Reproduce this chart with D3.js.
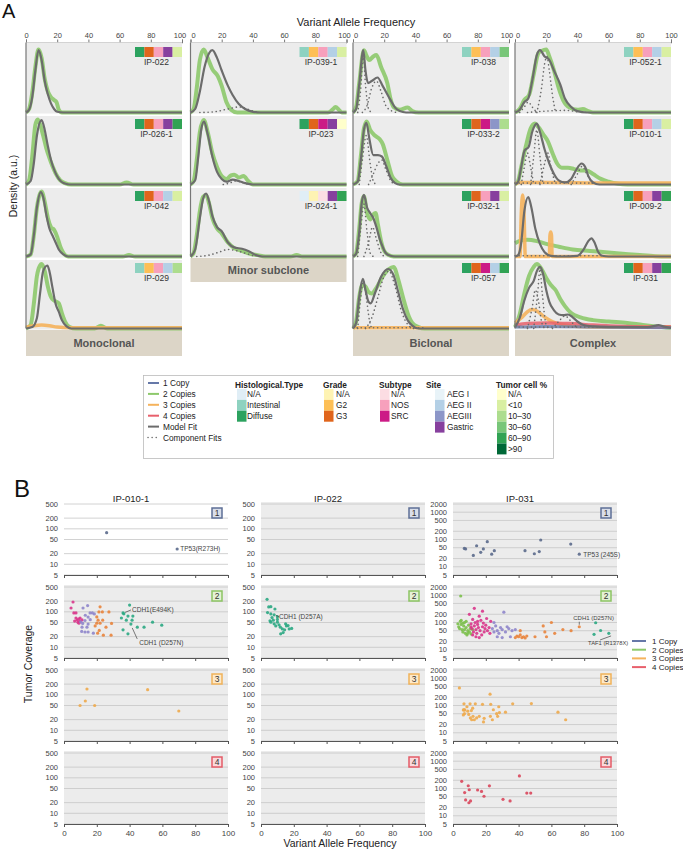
<!DOCTYPE html>
<html><head><meta charset="utf-8">
<script src="https://cdn.jsdelivr.net/npm/d3@7"></script>
<style>body{margin:0;background:#fff;} svg{display:block;font-family:"Liberation Sans",Arial,sans-serif;}</style>
</head><body><svg id="c" width="683" height="850"></svg>
<script>
// ---------------- DATA: panel A legend categories ----------------
const histTypes = ['N/A','Intestinal','Diffuse'];
const grades = ['N/A','G2','G3'];
const subtypes = ['N/A','NOS','SRC'];
const sites = ['AEG I','AEG II','AEGIII','Gastric'];
const tumorPct = ['N/A','<10','10–30','30–60','60–90','>90'];
const copyLabels = ['1 Copy','2 Copies','3 Copies','4 Copies','Model Fit','Component Fits'];
const vafTicks = [0,20,40,60,80,100];
const groupLabels = ['Monoclonal','Minor subclone','Biclonal','Complex'];

// strip values: [hist, grade, subtype, site, tumor%]
const strip_IP022 = ['Diffuse','G3','NOS','Gastric','<10'];
const strip_IP0261 = ['Diffuse','G3','NOS','Gastric','60–90'];
const strip_IP042 = ['Diffuse','G3','NOS','AEG II','<10'];
const strip_IP029 = ['Intestinal','G2','NOS','AEG II','10–30'];
const strip_IP0391 = ['Intestinal','G2','NOS','AEG II','<10'];
const strip_IP023 = ['Diffuse','G3','SRC','Gastric','N/A'];
const strip_IP0241 = ['N/A','N/A','N/A','Gastric','60–90'];
const strip_IP038 = ['Intestinal','G2','NOS','AEG II','30–60'];
const strip_IP0332 = ['Diffuse','G3','SRC','AEGIII','10–30'];
const strip_IP0321 = ['Diffuse','G3','NOS','Gastric','<10'];
const strip_IP057 = ['Diffuse','G3','SRC','AEG II','60–90'];
const strip_IP0521 = ['Intestinal','G2','NOS','AEG II','<10'];
const strip_IP0101 = ['Diffuse','G3','NOS','AEG II','<10'];
const strip_IP0092 = ['Diffuse','G3','NOS','Gastric','60–90'];
const strip_IP031 = ['Diffuse','G3','NOS','Gastric','60–90'];

// density curves [VAF, density a.u.]
const fit_IP022 = [[0,0],[2,0.04],[4,0.22],[6,0.6],[8,0.89],[10,0.75],[12,0.45],[14,0.26],[16,0.13],[18,0.05],[20,0.01],[24,0],[100,0]];
const cn2_IP022 = [[0,0],[2,0.05],[4,0.28],[6,0.65],[8,0.9],[10,0.78],[12,0.48],[14,0.3],[16,0.22],[18,0.18],[19.5,0.15],[21,0.04],[23,0],[100,0]];

const fit_IP0261 = [[0,0],[3,0.05],[5,0.3],[7,0.7],[10,0.92],[12,0.78],[14,0.55],[16,0.35],[18.6,0.18],[21,0.08],[24,0.02],[28,0],[100,0]];
const cn2_IP0261 = [[0,0],[2,0.06],[4,0.4],[6,0.85],[7.5,0.93],[9,0.86],[11,0.7],[13,0.52],[15,0.38],[17,0.26],[19,0.16],[22,0.06],[25,0.02],[29,0],[60,0],[64.5,0.03],[69,0],[100,0]];

const fit_IP042 = [[0,0],[3,0.03],[5,0.3],[7,0.7],[9.5,0.92],[11,0.85],[13,0.6],[15,0.4],[17,0.3],[19,0.2],[21,0.1],[24,0.03],[27,0],[100,0]];
const cn2_IP042 = [[0,0],[3,0.03],[5,0.3],[7,0.7],[9,0.9],[10,0.93],[12,0.78],[14,0.55],[16,0.42],[18,0.38],[20,0.28],[22,0.14],[24,0.05],[27,0],[62,0],[66,0.02],[70,0],[100,0]];

const fit_IP029 = [[0,0],[4,0.02],[7,0.15],[9,0.5],[11,0.82],[13.7,0.9],[15,0.82],[17,0.58],[19,0.35],[21,0.24],[23,0.12],[26,0.03],[29,0],[100,0]];
const cn2_IP029 = [[0,0],[3,0.05],[5,0.35],[7,0.75],[9,0.9],[10,0.92],[12,0.82],[14,0.6],[16,0.45],[18,0.4],[21,0.36],[23,0.22],[25,0.1],[28,0.02],[32,0],[44,0],[48,0.04],[52,0],[100,0]];
const cn3_IP029 = [[0,0.02],[5,0.04],[10,0.05],[15,0.04],[20,0.02],[28,0.01],[100,0.01]];

const fit_IP0391 = [[0,0],[3,0.05],[6,0.3],[9,0.65],[12,0.85],[14,0.89],[17,0.78],[20,0.6],[24,0.38],[27,0.25],[31,0.12],[35,0.05],[40,0.01],[45,0],[100,0]];
const cn2_IP0391 = [[0,0],[2,0.05],[4,0.35],[6,0.75],[8.5,0.9],[11,0.78],[14,0.62],[17.5,0.52],[20,0.38],[23,0.15],[26,0.04],[30,0],[88,0],[91,0.04],[93,0.08],[95,0.04],[97,0],[100,0]];
const comp_IP0391 = [[[6,0],[15,0.01],[24,0.05],[31,0.08],[35,0.06],[40,0.02],[44,0]]];

const fit_IP023 = [[0,0],[3,0.06],[5,0.4],[7,0.8],[8.7,0.9],[11,0.72],[14,0.4],[17,0.18],[20,0.08],[23,0.04],[27,0.07],[31,0.05],[35,0.02],[40,0],[100,0]];
const cn2_IP023 = [[0,0],[2,0.05],[4,0.35],[6,0.75],[8.5,0.92],[11,0.75],[14,0.45],[17,0.25],[20,0.12],[23,0.08],[26,0.13],[28,0.14],[31,0.1],[34,0.12],[37,0.05],[40,0],[100,0]];
const comp_IP023 = [[[21,0],[25,0.02],[29,0.05],[33,0.03],[37,0]]];

const fit_IP0241 = [[0,0],[3,0.1],[6,0.55],[8,0.82],[10,0.9],[12,0.78],[14,0.58],[17,0.42],[20,0.36],[24,0.2],[28,0.13],[33,0.11],[37,0.08],[42,0.02],[46,0],[100,0]];
const cn2_IP0241 = [[0,0],[2,0.05],[4,0.3],[6,0.65],[8,0.85],[10,0.88],[12,0.75],[14,0.55],[17,0.4],[20,0.33],[24,0.2],[28,0.12],[33,0.08],[38,0.04],[43,0.02],[48,0],[64,0],[68,0.02],[72,0],[100,0]];
const comp_IP0241 = [[[4,0],[12,0.02],[18,0.06],[24,0.1],[30,0.08],[36,0.04],[42,0]]];

const fit_IP038 = [[0,0],[2,0.05],[4,0.4],[6.6,0.89],[8,0.6],[9.6,0.42],[12,0.45],[15.7,0.5],[19,0.38],[24,0.18],[27,0.07],[30,0.02],[34,0],[100,0]];
const cn2_IP038 = [[0,0],[2,0.08],[4,0.42],[7,0.89],[8.5,0.82],[10.4,0.75],[13,0.8],[15,0.82],[18,0.65],[22,0.42],[24,0.2],[26,0.08],[30,0.04],[35,0.07],[38,0.02],[42,0],[100,0]];
const comp_IP038 = [[[3,0],[5,0.35],[6.5,0.82],[8,0.4],[10,0.05],[12,0]],[[6,0],[9,0.1],[12,0.35],[15,0.45],[18,0.3],[21,0.1],[25,0.02],[28,0]]];

const fit_IP0332 = [[0,0],[3,0.04],[5,0.35],[7,0.78],[8.6,0.88],[10.5,0.65],[13,0.42],[16,0.42],[18.5,0.4],[21,0.28],[24,0.1],[27,0.02],[30,0],[100,0]];
const cn2_IP0332 = [[0,0],[3,0.05],[5,0.4],[7,0.8],[8.8,0.9],[11,0.78],[14,0.7],[17,0.65],[19,0.58],[22,0.35],[25,0.12],[28,0.04],[32,0],[100,0]];
const comp_IP0332 = [[[4,0],[6,0.35],[8.5,0.7],[11,0.3],[13,0.05],[15,0]],[[10,0],[13,0.15],[16,0.3],[18.5,0.35],[21,0.22],[24,0.06],[27,0]]];

const fit_IP0321 = [[0,0],[2,0.04],[4,0.35],[5.5,0.75],[7,0.88],[9,0.7],[11,0.62],[13,0.55],[15,0.42],[17,0.26],[19,0.14],[21,0.05],[24,0.01],[27,0],[100,0]];
const cn2_IP0321 = [[0,0],[2,0.05],[4,0.4],[5.5,0.75],[7,0.86],[9,0.62],[11,0.53],[13,0.6],[14.5,0.62],[16,0.45],[18,0.22],[20,0.08],[23,0.02],[26,0],[100,0]];
const comp_IP0321 = [[[3,0],[5,0.4],[7,0.75],[9,0.35],[11,0.05],[13,0]],[[7,0],[10,0.2],[12.5,0.42],[15,0.25],[18,0.05],[20,0]]];

const fit_IP057 = [[0,0],[2,0.08],[4,0.45],[6.3,0.71],[8,0.55],[10,0.38],[11.3,0.36],[14,0.5],[18,0.74],[22.6,0.85],[26,0.76],[29,0.52],[32,0.28],[35,0.12],[38,0.04],[42,0],[100,0]];
const cn2_IP057 = [[0,0],[2,0.1],[4,0.45],[6,0.62],[8,0.6],[10,0.52],[12,0.5],[15,0.58],[19,0.74],[23,0.85],[26,0.88],[29,0.7],[32,0.45],[35,0.22],[38,0.08],[42,0.02],[46,0],[100,0]];
const cn3_IP057 = [[0,0.01],[100,0.01]];
const comp_IP057 = [[[3,0],[5,0.45],[6.5,0.68],[8.5,0.45],[10.5,0.12],[12,0]],[[8,0],[12,0.15],[16,0.45],[20,0.75],[23,0.82],[27,0.6],[31,0.25],[35,0.06],[39,0]],[[0,0.01],[45,0.01]]];

const fit_IP0521 = [[0,0],[3,0.04],[6,0.15],[8.5,0.2],[11,0.45],[14,0.82],[16,0.89],[19,0.8],[22,0.75],[25,0.6],[29,0.4],[32,0.2],[36,0.08],[40,0.02],[46,0],[100,0]];
const cn2_IP0521 = [[0,0],[3,0.05],[6,0.18],[9,0.25],[12,0.55],[15,0.85],[17,0.88],[20,0.9],[22,0.8],[25,0.6],[28,0.35],[31,0.17],[35,0.07],[40,0.04],[43.5,0.05],[47,0.02],[50,0],[100,0]];
const comp_IP0521 = [[[14,0],[17,0.35],[19,0.7],[20.5,0.8],[22,0.6],[24,0.25],[26,0]],[[3,0],[6,0.08],[8.5,0.15],[11,0.08],[14,0]],[[8,0],[20,0.02],[32,0.03],[42,0]]];

const fit_IP0101 = [[0,0],[2,0.04],[4,0.25],[6,0.48],[8.8,0.54],[11,0.75],[14,0.87],[16,0.75],[19,0.5],[22,0.3],[25,0.15],[28,0.06],[32,0.03],[36,0.08],[39,0.2],[42.7,0.3],[45,0.25],[47,0.12],[50,0.03],[54,0],[100,0]];
const cn2_IP0101 = [[0,0],[2,0.05],[4,0.25],[7,0.55],[10,0.8],[12.8,0.87],[15,0.82],[18,0.72],[21,0.62],[24,0.45],[27,0.3],[30,0.24],[34,0.24],[38,0.22],[42,0.2],[46,0.2],[50,0.15],[55,0.08],[60,0.04],[66,0.01],[72,0],[100,0]];
const cn3_IP0101 = [[0,0.01],[3,0.03],[20,0.03],[60,0.02],[100,0.02]];
const comp_IP0101 = [[[4,0],[6,0.25],[8,0.45],[10,0.25],[12,0]],[[10,0],[12,0.4],[14,0.78],[16,0.4],[18,0]],[[16,0],[19,0.3],[21,0.45],[23,0.25],[26,0]],[[36,0],[40,0.15],[43,0.26],[46,0.15],[50,0]],[[0,0.02],[50,0.02]]];

const fit_IP0092 = [[0,0],[2,0.02],[4,0.2],[6,0.65],[8.5,0.85],[10.5,0.7],[13,0.4],[16,0.18],[19,0.06],[23,0.01],[30,0],[40,0.01],[44,0.1],[47,0.22],[49,0.26],[51,0.2],[53,0.08],[56,0.01],[60,0],[100,0]];
const cn2_IP0092 = [[0,0.19],[4,0.23],[8,0.24],[14,0.22],[20,0.18],[28,0.14],[37,0.1],[48,0.08],[58,0.06],[69,0.04],[80,0.02],[90,0.005],[100,0]];
const cn3_IP0092 = [[0,0],[3.2,0],[4,0.6],[4.9,0.88],[5.8,0.6],[6.6,0],[22,0],[22.4,0.3],[22.9,0.35],[23.4,0.3],[23.8,0],[100,0]];
const comp_IP0092 = [[[0,0.01],[56,0.01]]];

const fit_IP031 = [[0,0.02],[3,0.15],[6,0.4],[9,0.58],[12,0.68],[14,0.82],[16,0.88],[18,0.78],[20,0.55],[22,0.38],[25,0.26],[28,0.2],[31,0.19],[34,0.2],[37,0.16],[40,0.1],[44,0.05],[50,0.03],[60,0.02],[85,0.02],[90,0.04],[92,0.05],[95,0.03],[100,0.01]];
const cn2_IP031 = [[0,0.02],[3,0.2],[6,0.5],[9,0.75],[12,0.88],[14,0.92],[17,0.85],[20,0.72],[23,0.62],[26,0.55],[29,0.42],[32,0.32],[36,0.22],[42,0.16],[50,0.12],[60,0.1],[72,0.08],[82,0.05],[90,0.03],[100,0.01]];
const cn3_IP031 = [[0,0.08],[4,0.15],[8,0.24],[11,0.27],[14,0.25],[18,0.18],[22,0.12],[26,0.08],[32,0.05],[40,0.03],[60,0.02],[100,0.02]];
const cn4_IP031 = [[0,0.05],[8,0.07],[20,0.08],[35,0.07],[50,0.05],[70,0.03],[100,0.02]];
const cn1_IP031 = [[0,0.02],[20,0.03],[50,0.02],[100,0.01]];
const comp_IP031 = [[[8,0],[11,0.3],[13,0.55],[15,0.4],[17,0.1],[19,0]],[[12,0],[14.5,0.5],[16,0.85],[17.5,0.5],[20,0.05],[22,0]],[[24,0],[28,0.1],[32,0.18],[36,0.1],[40,0]],[[0,0.02],[60,0.02]]];

// ---------------- DATA: panel B (VAF %, tumor coverage) ----------------
const covTicks = [5,10,20,50,100,200,500];
const covTicksWide = [5,10,20,50,100,200,500,1000,2000];
const bLegend = ['1 Copy','2 Copies','3 Copies','4 Copies'];

const b_IP0101_cn1 = [[26,78],[69,27]];
const b_IP0101_cn2_magenta = [[5.5,189],[4.3,128],[6,93],[7.3,93],[8,59],[8.5,51],[9.1,48],[9.8,54],[9.8,67],[11,59],[7.3,67],[6.5,55],[9,62]];
const b_IP0101_cn2_lavender = [[14.4,150],[11.6,128],[15.9,93],[17.3,93],[18.5,87],[14.7,71],[10.2,52],[11.4,47],[12.8,57],[14.7,45],[10.8,28],[12.8,27],[14.7,27],[17.9,25],[14,37],[11,37],[16,60],[13,80]];
const b_IP0101_cn2_orange = [[22,138],[21.3,99],[23.4,99],[20,72],[20.8,58],[20,48],[22,48],[23.6,58],[25.6,37],[29,47],[27.4,99],[20.5,25],[24,22],[28.7,22],[21.5,30],[19,40]];
const b_IP0101_cn2_teal = [[36,93],[36.5,88],[35,67],[40,155],[39,76],[42,76],[38,58],[41.5,58],[36,31],[39,24],[40.8,45],[44.7,37],[48.8,37],[54,51],[59.6,42]];
const b_IP0101_cn3 = [[9.8,50],[13,67],[14,146],[18.7,50],[51,140],[70,35]];

const b_IP022_cn2_teal = [[3.7,225],[4.7,137],[6,140],[8.5,120],[4,95],[6,87],[8,82],[10,73],[6.7,69],[5.5,56],[7.5,58],[10,61],[6,51],[8,46],[10,51],[11,43],[9,40],[11.8,37],[13,33],[14.4,31],[15.5,40],[17.2,33],[18.7,34],[16.5,41],[12,24],[13.5,26],[15,46]];

const b_IP031_cn1 = [[6.9,47],[7.7,45],[12.4,26],[14.4,59],[16.9,34],[18.5,45],[20.9,83],[23.6,29],[25.2,39],[43.9,39],[49.6,30],[52.6,36],[53.5,96],[71.8,68],[77,29]];
const b_IP031_cn2_green = [[4.7,935],[3,90],[3.5,70],[4,60],[4.5,110],[5,85],[5.5,55],[6,45],[6.5,75],[7,100],[7.5,40],[8,65],[8.5,35],[9,50],[9.5,80],[10,45],[10.5,60],[11,38],[5,120],[6,95],[7,55],[8,110],[9,40],[12,55]];
const b_IP031_cn2_magenta = [[10,200],[11,90],[11.5,60],[12,130],[12.5,45],[13,75],[13.5,100],[14,55],[14.5,40],[15,85],[15.5,65],[16,170],[16.5,50],[17,120],[17.5,35],[18,70],[18.5,95],[19,45],[19.5,60],[20,80],[20.5,140],[21,50],[22,65],[22.5,40],[23,110],[13,330],[18,260],[12,35],[14,30],[16,28],[11,70],[15,110]];
const b_IP031_cn2_lavender = [[24,60],[25,45],[26,75],[27,50],[28,40],[29,65],[30,55],[31,240],[32,45],[33,70],[34,60],[35,30],[36,50],[27,30],[30,28],[38,55],[25,100]];
const b_IP031_cn2_orange = [[38,28],[39,32],[40,30],[41,35],[42,28],[43,30],[44,27],[45,32],[41,50],[55,75],[56,45],[57,30],[60,100],[62,40],[67,55],[72,50],[77,70],[50,30]];
const b_IP031_cn2_teal = [[87,98],[90,51],[86,37],[95,40]];
const b_IP031_cn3 = [[3.9,440],[6.7,115],[6.3,69],[6.8,69],[7.2,69],[7,50],[6.3,45],[10.4,115],[9,62],[9.6,47],[11.2,65],[10.6,35],[11.4,30],[12.2,40],[13,30],[13.6,115],[14.4,35],[16,40],[18,110],[18.6,25],[19,34],[22.6,260],[22.8,40],[23,110],[24,30],[24.6,70],[26.6,50],[27.9,90],[28.3,55],[27.2,40],[32,57],[36.4,115],[47.8,118],[64,57],[68.7,30],[8.5,90],[12,80]];
const b_IP031_cn4 = [[5.3,183],[7.1,71],[7.7,38],[9.3,126],[9.9,90],[9.7,30],[10.7,35],[15,88],[17.4,78],[18.9,52],[22.2,125],[30.5,40],[34.8,35],[40.5,290],[45,68],[47.4,68]];

// ---------------- STYLE ----------------
const catColor = {
  hist: {'N/A':'#e0eef6','Intestinal':'#8ed2c0','Diffuse':'#2ca25f'},
  grade: {'N/A':'#fef3b3','G2':'#fdbf56','G3':'#e0651c'},
  subtype: {'N/A':'#fcdde3','NOS':'#f7a0bc','SRC':'#cc1b86'},
  site: {'AEG I':'#e8f3f8','AEG II':'#b4d0e6','AEGIII':'#8c96c8','Gastric':'#87409e'},
  tumor: {'N/A':'#ffffcc','<10':'#d9efa2','10–30':'#addd8e','30–60':'#78c679','60–90':'#31a354','>90':'#006837'}
};
const stripKeys = ['hist','grade','subtype','site','tumor'];
const cnColor = {cn1:'#6678a8', cn2:'#8dc96b', cn3:'#f5b35c', cn4:'#e8606c', fit:'#6c6c6c'};
const ptColor = {slate:'#5b6a8c', magenta:'#d9358b', lavender:'#8f86cb', orange:'#e9843c', teal:'#2ba883', green:'#7cc04c', cn3:'#eeaa4c', cn4:'#d9475c'};

const svg = d3.select('#c');
const FONT = '"Liberation Sans",Arial,sans-serif';

// ---------------- PANEL A ----------------
const colX = [26, 190.5, 353, 515], colW = 156;
const rowTop = r => 42.5 + 72*r, rowBase = r => 112.5 + 72*r;

const panelsA = [
  {id:'IP-022',c:0,r:0,strip:strip_IP022,fit:fit_IP022,cn2:cn2_IP022},
  {id:'IP-026-1',c:0,r:1,strip:strip_IP0261,fit:fit_IP0261,cn2:cn2_IP0261},
  {id:'IP-042',c:0,r:2,strip:strip_IP042,fit:fit_IP042,cn2:cn2_IP042},
  {id:'IP-029',c:0,r:3,strip:strip_IP029,fit:fit_IP029,cn2:cn2_IP029,cn3:cn3_IP029},
  {id:'IP-039-1',c:1,r:0,strip:strip_IP0391,fit:fit_IP0391,cn2:cn2_IP0391,comp:comp_IP0391},
  {id:'IP-023',c:1,r:1,strip:strip_IP023,fit:fit_IP023,cn2:cn2_IP023,comp:comp_IP023},
  {id:'IP-024-1',c:1,r:2,strip:strip_IP0241,fit:fit_IP0241,cn2:cn2_IP0241,comp:comp_IP0241},
  {id:'IP-038',c:2,r:0,strip:strip_IP038,fit:fit_IP038,cn2:cn2_IP038,comp:comp_IP038},
  {id:'IP-033-2',c:2,r:1,strip:strip_IP0332,fit:fit_IP0332,cn2:cn2_IP0332,comp:comp_IP0332},
  {id:'IP-032-1',c:2,r:2,strip:strip_IP0321,fit:fit_IP0321,cn2:cn2_IP0321,comp:comp_IP0321},
  {id:'IP-057',c:2,r:3,strip:strip_IP057,fit:fit_IP057,cn2:cn2_IP057,cn3:cn3_IP057,comp:comp_IP057},
  {id:'IP-052-1',c:3,r:0,strip:strip_IP0521,fit:fit_IP0521,cn2:cn2_IP0521,comp:comp_IP0521},
  {id:'IP-010-1',c:3,r:1,strip:strip_IP0101,fit:fit_IP0101,cn2:cn2_IP0101,cn3:cn3_IP0101,comp:comp_IP0101},
  {id:'IP-009-2',c:3,r:2,strip:strip_IP0092,fit:fit_IP0092,cn2:cn2_IP0092,cn3:cn3_IP0092,comp:comp_IP0092},
  {id:'IP-031',c:3,r:3,strip:strip_IP031,fit:fit_IP031,cn2:cn2_IP031,cn3:cn3_IP031,cn4:cn4_IP031,cn1:cn1_IP031,comp:comp_IP031}
];
const colRows = [4,3,4,4];

svg.append('text').attr('x',2).attr('y',18).attr('font-size',20).attr('fill','#111').text('A');
svg.append('text').attr('x',356).attr('y',26).attr('text-anchor','middle').attr('font-size',11).attr('fill','#222').text('Variant Allele Frequency');
svg.append('text').attr('transform','translate(17,186) rotate(-90)').attr('text-anchor','middle').attr('font-size',10.5).attr('fill','#222').text('Density (a.u.)');

const gA = svg.append('g');
colX.forEach((x0,c)=>{
  const xs = d3.scaleLinear().domain([0,100]).range([x0,x0+colW]);
  const ax = gA.append('g').attr('transform','translate(0,42.5)')
    .call(d3.axisTop(xs).tickValues(vafTicks).tickSize(3).tickPadding(2));
  ax.select('.domain').attr('stroke','#777');
  ax.selectAll('line').attr('stroke','#777');
  ax.selectAll('text').attr('font-size',7.5).attr('fill','#444').attr('font-family',FONT)
    .attr('dx',d=> (d===100 && c<3) ? -2.5 : (d===0 && c>0 ? 2.5 : 0));
  // group label box
  const nR = colRows[c];
  const by = rowBase(nR-1)+1.5;
  gA.append('rect').attr('x',x0).attr('y',by).attr('width',colW).attr('height',c===1?24:26).attr('fill','#dcd5c7');
  gA.append('text').attr('x',x0+colW/2).attr('y',by+(c===1?16:17)).attr('text-anchor','middle')
    .attr('font-size',11).attr('font-weight','bold').attr('fill','#555').text(groupLabels[c]);
});

panelsA.forEach(p=>{
  const x0 = colX[p.c];
  const xs = d3.scaleLinear().domain([0,100]).range([x0,x0+colW]);
  const ys = d3.scaleLinear().domain([0,1]).range([rowBase(p.r), rowTop(p.r)]);
  const g = gA.append('g');
  g.append('rect').attr('x',x0).attr('y',rowTop(p.r)+(p.r===0?0:1.5)).attr('width',colW)
    .attr('height',rowBase(p.r)-rowTop(p.r)-(p.r===0?0:1.5)+1).attr('fill','#ececec');
  const line = d3.line().x(d=>xs(d[0])).y(d=>ys(d[1])).curve(d3.curveMonotoneX);
  g.append('path').attr('d',line(p.cn2)).attr('fill','none').attr('stroke',cnColor.cn2).attr('stroke-width',4).attr('stroke-opacity',0.9).attr('stroke-linejoin','round');
  if(p.cn3) g.append('path').attr('d',line(p.cn3)).attr('fill','none').attr('stroke',cnColor.cn3).attr('stroke-width',3.5).attr('stroke-opacity',0.9);
  if(p.cn4) g.append('path').attr('d',line(p.cn4)).attr('fill','none').attr('stroke',cnColor.cn4).attr('stroke-width',3.5).attr('stroke-opacity',0.85);
  if(p.cn1) g.append('path').attr('d',line(p.cn1)).attr('fill','none').attr('stroke',cnColor.cn1).attr('stroke-width',3).attr('stroke-opacity',0.8);
  (p.comp||[]).forEach(cp=>{
    g.append('path').attr('d',line(cp)).attr('fill','none').attr('stroke','#6a6a6a').attr('stroke-width',1.6)
      .attr('stroke-dasharray','0.1,4').attr('stroke-linecap','round');
  });
  g.append('path').attr('d',line(p.fit)).attr('fill','none').attr('stroke',cnColor.fit).attr('stroke-width',2.2).attr('stroke-linejoin','round');
  // strip
  const sw = 9.4, sx = x0+colW-5*sw, sy = rowTop(p.r)+4.5;
  p.strip.forEach((v,i)=>{
    g.append('rect').attr('x',sx+i*sw).attr('y',sy).attr('width',sw).attr('height',10).attr('fill',catColor[stripKeys[i]][v]);
  });
  g.append('text').attr('x',sx+2.5*sw-2).attr('y',sy+18).attr('text-anchor','middle').attr('font-size',8.5).attr('fill','#333').text(p.id);
});
// left axis lines per column
colX.forEach((x0,c)=>{
  gA.append('line').attr('x1',x0).attr('x2',x0).attr('y1',42.5).attr('y2',rowBase(colRows[c]-1)).attr('stroke','#777').attr('stroke-width',1.2);
});

// ---------------- LEGEND A ----------------
const gL = svg.append('g');
gL.append('rect').attr('x',143.5).attr('y',375.5).attr('width',410).attr('height',83).attr('fill','#fff').attr('stroke','#bbb').attr('stroke-width',0.8);
const lY = i => 386 + 10.9*i;
const lineCols = [cnColor.cn1, cnColor.cn2, cnColor.cn3, cnColor.cn4, cnColor.fit, '#777'];
copyLabels.forEach((t,i)=>{
  const l = gL.append('line').attr('x1',148).attr('x2',159).attr('y1',lY(i)-3).attr('y2',lY(i)-3).attr('stroke',lineCols[i]).attr('stroke-width',2);
  if(i===5) l.attr('stroke-dasharray','0.1,4').attr('stroke-linecap','round').attr('stroke-width',1.6);
  gL.append('text').attr('x',163).attr('y',lY(i)).attr('font-size',8.3).attr('fill','#222').text(t);
});
const legGroups = [
  {title:'Histological.Type', key:'hist', items:histTypes, hx:235, sx:237, tx:247},
  {title:'Grade', key:'grade', items:grades, hx:323, sx:324, tx:336},
  {title:'Subtype', key:'subtype', items:subtypes, hx:379, sx:380, tx:391},
  {title:'Site', key:'site', items:sites, hx:426, sx:435, tx:447},
  {title:'Tumor cell %', key:'tumor', items:tumorPct, hx:496, sx:497, tx:508}
];
legGroups.forEach(G=>{
  gL.append('text').attr('x',G.hx).attr('y',387.5).attr('font-size',8.3).attr('font-weight','bold').attr('fill','#222').text(G.title);
  G.items.forEach((it,i)=>{
    const cy = 397 + 10.9*i;
    gL.append('rect').attr('x',G.sx).attr('y',cy-8).attr('width',9.5).attr('height',10.9).attr('fill',catColor[G.key][it]);
    gL.append('text').attr('x',G.tx).attr('y',cy).attr('font-size',8.3).attr('fill','#222').text(it);
  });
});

// ---------------- PANEL B ----------------
svg.append('text').attr('x',14).attr('y',497).attr('font-size',24).attr('fill','#111').text('B');
const colBX = [64, 261, 453], colBW = 164;
const bTop = r => 504 + 83*r, bBot = r => 575 + 83*r;
const bTitles = ['IP-010-1','IP-022','IP-031'];
const boxStyle = [
  {s:'#5d6f96', f:'#d9dee9'}, {s:'#8cc463', f:'#e4f1d5'}, {s:'#f0b25a', f:'#fde9c9'}, {s:'#e45b67', f:'#f9d9dc'}
];
const bSeries = [
  {c:0,r:0,d:b_IP0101_cn1,col:ptColor.slate},
  {c:0,r:1,d:b_IP0101_cn2_magenta,col:ptColor.magenta},
  {c:0,r:1,d:b_IP0101_cn2_lavender,col:ptColor.lavender},
  {c:0,r:1,d:b_IP0101_cn2_orange,col:ptColor.orange},
  {c:0,r:1,d:b_IP0101_cn2_teal,col:ptColor.teal},
  {c:0,r:2,d:b_IP0101_cn3,col:ptColor.cn3},
  {c:1,r:1,d:b_IP022_cn2_teal,col:ptColor.teal},
  {c:2,r:0,d:b_IP031_cn1,col:ptColor.slate},
  {c:2,r:1,d:b_IP031_cn2_green,col:ptColor.green},
  {c:2,r:1,d:b_IP031_cn2_lavender,col:ptColor.lavender},
  {c:2,r:1,d:b_IP031_cn2_orange,col:ptColor.orange},
  {c:2,r:1,d:b_IP031_cn2_magenta,col:ptColor.magenta},
  {c:2,r:1,d:b_IP031_cn2_teal,col:ptColor.teal},
  {c:2,r:2,d:b_IP031_cn3,col:ptColor.cn3},
  {c:2,r:3,d:b_IP031_cn4,col:ptColor.cn4}
];
const bScales = {};
const gB = svg.append('g');
colBX.forEach((x0,c)=>{
  const xs = d3.scaleLinear().domain([0,100]).range([x0,x0+colBW]);
  const ticks = c===2 ? covTicksWide : covTicks;
  const dom = [5, ticks[ticks.length-1]];
  gB.append('text').attr('x',x0+colBW/2-15).attr('y',502).attr('text-anchor','middle').attr('font-size',9.5).attr('fill','#222').text(bTitles[c]);
  for(let r=0;r<4;r++){
    const ys = d3.scaleLog().domain(dom).range([bBot(r), bTop(r)]);
    bScales[c+'_'+r] = {xs, ys};
    const white = (c===0 && r===0);
    gB.append('rect').attr('x',x0).attr('y',bTop(r)-2).attr('width',colBW).attr('height',bBot(r)-bTop(r)+2).attr('fill',white?'#ffffff':'#ececec');
    ticks.forEach(t=>{
      gB.append('line').attr('x1',x0).attr('x2',x0+colBW).attr('y1',ys(t)).attr('y2',ys(t)).attr('stroke','#c6c6c6').attr('stroke-width',0.8);
      gB.append('text').attr('x',x0-6).attr('y',ys(t)+2.6).attr('text-anchor','end').attr('font-size',7.5).attr('fill','#444').text(t);
    });
    const ax = gB.append('g').attr('transform',`translate(0,${bBot(r)})`)
      .call(d3.axisBottom(xs).tickValues(vafTicks).tickSize(3).tickPadding(3).tickFormat(r===3?d3.format('d'):''));
    ax.select('.domain').attr('stroke','#555');
    ax.selectAll('line').attr('stroke','#555');
    ax.selectAll('text').attr('font-size',8).attr('fill','#444').attr('font-family',FONT);
    const st = boxStyle[r];
    gB.append('rect').attr('x',x0+colBW-16).attr('y',bTop(r)+4).attr('width',10).attr('height',10).attr('fill',st.f).attr('stroke',st.s).attr('stroke-width',1.5);
    gB.append('text').attr('x',x0+colBW-11).attr('y',bTop(r)+12.3).attr('text-anchor','middle').attr('font-size',8.5).attr('fill','#333').text(r+1);
  }
});
bSeries.forEach(s=>{
  const {xs,ys} = bScales[s.c+'_'+s.r];
  gB.append('g').selectAll('circle').data(s.d).join('circle')
    .attr('cx',d=>xs(d[0])).attr('cy',d=>ys(d[1])).attr('r',1.6).attr('fill',s.col).attr('fill-opacity',0.9);
});
// annotations
function annot(c,r,pt,text,tx,ty,leader,fs){
  const {xs,ys} = bScales[c+'_'+r];
  const px = xs(pt[0]), py = ys(pt[1]);
  if(leader) gB.append('line').attr('x1',px+leader[0]).attr('y1',py+leader[1]).attr('x2',px+leader[2]).attr('y2',py+leader[3]).attr('stroke','#444').attr('stroke-width',0.7);
  gB.append('text').attr('x',px+tx).attr('y',py+ty).attr('font-size',fs||6.5).attr('fill','#444').text(text);
}
annot(0,0,b_IP0101_cn1[1],'TP53(R273H)',3,2.3,null);
annot(0,1,b_IP0101_cn2_teal[0],'CDH1(E494K)',9,-1,[2,-0.5,8,-3]);
annot(0,1,[41,40],'CDH1 (D257N)',8,19,[1,2,6,13]);
annot(1,1,[8.5,80],'CDH1 (D257A)',4,4,[1,0,4,1.5]);
annot(2,0,b_IP031_cn1[14],'TP53 (245S)',4,3,null);
annot(2,1,b_IP031_cn2_orange[16],'CDH1 (D257N)',-6,-7,[0,-2,0,-5],6);
annot(2,1,[97,35],'TAF1 (R1378X)',-24,10,[-1,1,-12,5],5.8);

svg.append('text').attr('transform','translate(32,664) rotate(-90)').attr('text-anchor','middle').attr('font-size',10.5).attr('fill','#222').text('Tumor Coverage');
svg.append('text').attr('x',340).attr('y',847).attr('text-anchor','middle').attr('font-size',10.5).attr('fill','#222').text('Variant Allele Frequency');
// legend B
const bLegCols = [cnColor.cn1, cnColor.cn2, cnColor.cn3, cnColor.cn4];
bLegend.forEach((t,i)=>{
  const y = 644 + 8.7*i;
  svg.append('line').attr('x1',632).attr('x2',646).attr('y1',y-3).attr('y2',y-3).attr('stroke',bLegCols[i]).attr('stroke-width',2);
  svg.append('text').attr('x',652).attr('y',y).attr('font-size',8).attr('fill','#222').text(t);
});
</script></body></html>
